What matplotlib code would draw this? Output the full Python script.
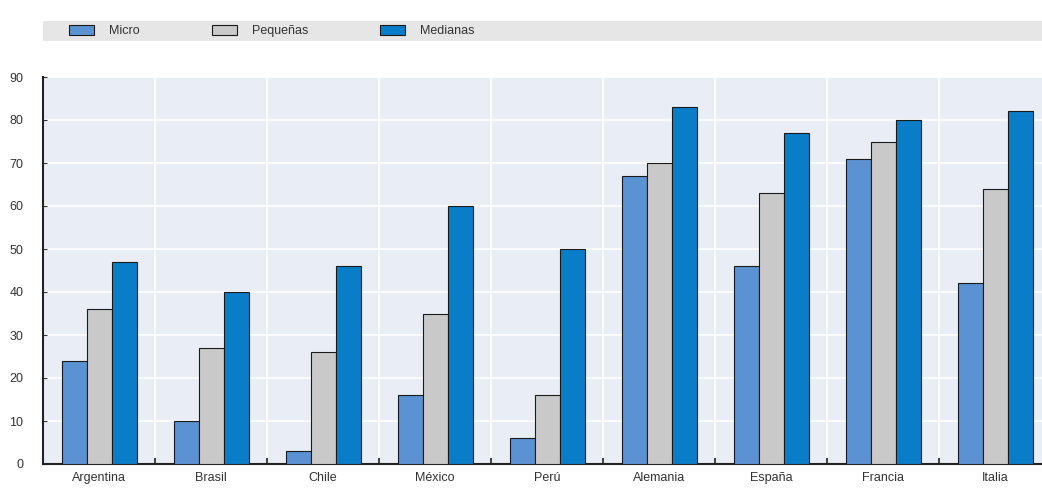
import matplotlib
matplotlib.use('Agg')
import matplotlib.pyplot as plt
from matplotlib.patches import Rectangle
import numpy as np

countries = ["Argentina", "Brasil", "Chile", "México", "Perú",
             "Alemania", "España", "Francia", "Italia"]
micro = [24, 10, 3, 16, 6, 67, 46, 71, 42]
pequenas = [36, 27, 26, 35, 16, 70, 63, 75, 64]
medianas = [47, 40, 46, 60, 50, 83, 77, 80, 82]
series_names = ["Micro", "Pequeñas", "Medianas"]
colors = ["#5b92d2", "#c9c9c9", "#0a7dc9"]

plt.rcParams['font.family'] = ['Liberation Sans', 'DejaVu Sans']

fig = plt.figure(figsize=(10.42, 5.0), dpi=100)
W, H = 1042, 500
left, right, top, bottom = 43, 1051.5, 77, 464
ax = fig.add_axes([left / W, 1 - bottom / H, (right - left) / W, (bottom - top) / H])
ax.set_facecolor("#e9edf5")

x = np.arange(len(countries))
bw = 0.223
for i, (vals, name, col) in enumerate(zip([micro, pequenas, medianas], series_names, colors)):
    ax.bar(x + (i - 1) * bw, vals, bw, color=col, edgecolor="#1a1a1a",
           linewidth=0.8, label=name, zorder=3)

ax.set_xlim(-0.5, len(countries) - 0.5)
ax.set_ylim(0, 90)
ax.set_yticks(range(0, 91, 10))
ax.set_xticks(x)
ax.set_xticklabels(countries)
ax.set_xticks(x[:-1] + 0.5, minor=True)
ax.grid(True, axis='y', color='white', linewidth=1.2, zorder=0)
ax.grid(True, axis='x', which='minor', color='white', linewidth=1.2, zorder=0)
ax.tick_params(axis='x', which='major', length=0, labelsize=9, colors='#333333', pad=6)
ax.tick_params(axis='x', which='minor', length=4, direction='in', color='#222222', width=1.2)
ax.tick_params(axis='y', length=3, direction='in', labelsize=9, colors='#333333', pad=14)
for s in ['top', 'right']:
    ax.spines[s].set_visible(False)
ax.spines['left'].set_linewidth(1.5)
ax.spines['bottom'].set_linewidth(1.5)
ax.spines['left'].set_color('#222222')
ax.spines['bottom'].set_color('#222222')

# legend band
fig.patches.append(Rectangle((43 / W, 1 - 41 / H), (W - 43) / W, 20 / H,
                             transform=fig.transFigure, facecolor='#e6e6e6',
                             edgecolor='none', zorder=0))
handles, labels = ax.get_legend_handles_labels()
fig.legend(handles, labels, loc='center left', bbox_to_anchor=(58 / W, 1 - 31 / H),
           ncol=3, frameon=False, fontsize=9, handlelength=2.0, handleheight=0.8,
           columnspacing=5.75, handletextpad=1.2, labelcolor='#333333')

fig.savefig('out.png', dpi=100)
